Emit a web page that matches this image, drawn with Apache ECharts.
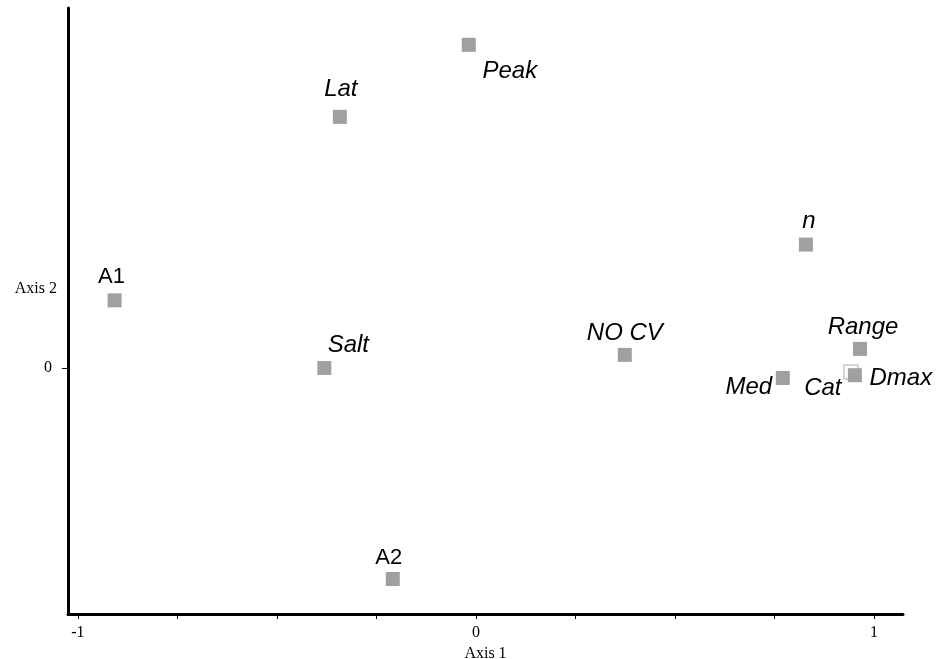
<!DOCTYPE html>
<html>
<head>
<meta charset="utf-8">
<script src="https://cdn.jsdelivr.net/npm/echarts@6/dist/echarts.min.js"></script>
<style>html,body{margin:0;padding:0;background:#fff}#c{width:941px;height:659px}</style>
</head>
<body>
<div id="c"></div>
<script>
// ---- data ----
const names = ['A1', 'Salt', 'Lat', 'Peak', 'A2', 'NO CV', 'n', 'Range', 'Med', 'Cat', 'Dmax'];
const axis1 = [-0.908, -0.381, -0.342, -0.018, -0.209, 0.374, 0.829, 0.965, 0.771, 0.942, 0.952];
const axis2 = [0.170, 0.000, 0.631, 0.812, -0.530, 0.033, 0.310, 0.048, -0.025, -0.010, -0.018];
const italicNames = ['Salt', 'Lat', 'Peak', 'NO CV', 'n', 'Range', 'Med', 'Cat', 'Dmax'];
const xTickValues = [-1, -0.75, -0.5, -0.25, 0, 0.25, 0.5, 0.75, 1];
const xLabelValues = [-1, 0, 1];
const yTickValues = [0];
const yNameValue = 0.2;   // where "Axis 2" sits along the vertical axis

// ---- label placement (style) ----
const labelOffset = {
  'A1': [-3, -23], 'Salt': [24, -23], 'Lat': [1, -28], 'Peak': [41, 27], 'A2': [-4, -21],
  'NO CV': [0, -22], 'n': [3, -23], 'Range': [3, -22], 'Med': [-34, 9], 'Cat': [-28, 16], 'Dmax': [46, 3]
};

const data = names.map((nm, i) => {
  const it = italicNames.includes(nm);
  return {
    value: [axis1[i], axis2[i]],
    name: nm,
    itemStyle: nm === 'Cat' ? { color: '#ffffff', borderColor: '#c8c8c8', borderWidth: 1.5 } : undefined,
    label: {
      show: true,
      position: 'inside',
      offset: labelOffset[nm],
      formatter: nm,
      fontStyle: it ? 'italic' : 'normal',
      fontFamily: '"Liberation Sans", Arial, sans-serif',
      fontSize: it ? 24 : 22,
      color: '#000',
      align: 'center',
      verticalAlign: 'middle'
    }
  };
});
// draw Cat first so Dmax overlaps it
const order = data.filter(d => d.name === 'Cat').concat(data.filter(d => d.name !== 'Cat'));

const serif = '"Liberation Serif", "Times New Roman", serif';
const chart = echarts.init(document.getElementById('c'));
chart.setOption({
  animation: false,
  grid: { left: 68, right: 38, top: 8, bottom: 45, outerBoundsMode: 'none', containLabel: false },
  xAxis: {
    type: 'value', min: -1.025, max: 1.073,
    name: 'Axis 1', nameLocation: 'middle', nameGap: 27,
    nameTextStyle: { fontFamily: serif, fontSize: 16, color: '#000' },
    axisLine: { onZero: false, lineStyle: { color: '#000', width: 3 } },
    axisTick: { show: true, length: 5, customValues: xTickValues, lineStyle: { color: '#000', width: 1 } },
    axisLabel: { customValues: xLabelValues, margin: 11, fontFamily: serif, fontSize: 16, color: '#000',
      formatter: v => String(v) },
    splitLine: { show: false }
  },
  yAxis: {
    type: 'value', min: -0.618, max: 0.9045,
    axisLine: { onZero: false, lineStyle: { color: '#000', width: 3 } },
    axisTick: { show: true, length: 6, customValues: yTickValues, lineStyle: { color: '#000', width: 1 } },
    axisLabel: { customValues: yTickValues, margin: 16, fontFamily: serif, fontSize: 16, color: '#000',
      formatter: v => String(v) },
    splitLine: { show: false }
  },
  series: [{
    type: 'scatter',
    symbol: 'rect',
    symbolSize: 14,
    itemStyle: { color: '#a0a0a0', opacity: 1 },
    emphasis: { disabled: true },
    data: order
  }]
});
// "Axis 2" name placed through the y scale
const yPix = chart.convertToPixel({ yAxisIndex: 0 }, yNameValue);
const xPix = chart.convertToPixel({ xAxisIndex: 0 }, -1.025);
chart.setOption({
  graphic: [{
    type: 'text', x: xPix - 11, y: yPix,
    style: { text: 'Axis 2', font: '16px ' + serif, fill: '#000', align: 'right', verticalAlign: 'middle' }
  }]
});
</script>
</body>
</html>
